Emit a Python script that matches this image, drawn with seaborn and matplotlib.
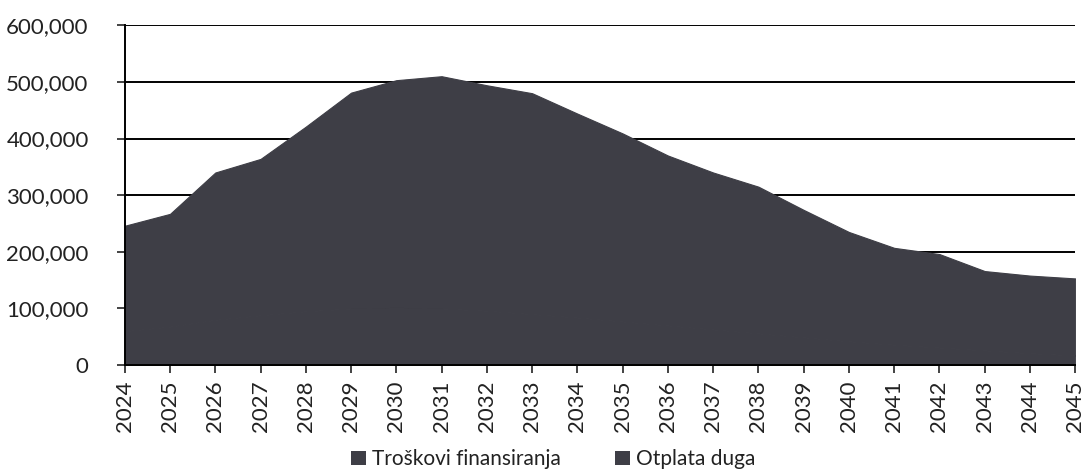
import matplotlib
matplotlib.use('Agg')
import matplotlib.pyplot as plt
import matplotlib.ticker as mticker
from matplotlib.patches import Patch
import seaborn as sns

years = list(range(2024, 2046))
# stacked in thousands (the two layers print in the same dark grey)
troskovi_finansiranja = [60, 68, 80, 88, 95, 100, 102, 100, 96, 90, 84,
                         77, 70, 63, 56, 49, 42, 36, 31, 26, 21, 17]
otplata_duga = [186, 199, 260, 276, 326, 381, 401, 410, 398, 390, 360,
                332, 300, 277, 259, 225, 193, 171, 165, 140, 137, 136]
labels = ['Troškovi finansiranja', 'Otplata duga']
colors = ['#3e3e46', '#3e3e46']

sns.set_style('white')
plt.rcParams['font.family'] = ['Lato', 'DejaVu Sans']

fig = plt.figure(figsize=(10.85, 4.76), dpi=100)
ax = fig.add_axes([0.115, 0.233, 0.876, 0.714])

ax.set_axisbelow(True)
ax.yaxis.grid(True, color='black', linewidth=1.4)
polys = ax.stackplot(years,
                     [v * 1000 for v in troskovi_finansiranja],
                     [v * 1000 for v in otplata_duga],
                     colors=colors, zorder=2)
# hide the seam between the two layers, as in the scan
for p, c in zip(polys, colors):
    p.set_edgecolor(c)
    p.set_linewidth(0.8)

ax.set_xlim(2024, 2045)
ax.set_ylim(0, 600000)
ax.set_xticks(years)
ax.set_xticklabels([str(y) for y in years], rotation=90)
ax.set_yticks(range(0, 600001, 100000))
ax.yaxis.set_major_formatter(mticker.FuncFormatter(lambda v, p: f'{int(v):,}'))
ax.tick_params(axis='both', labelsize=16, colors='#222222', length=6, width=1.2,
               direction='out', bottom=True, left=True)
ax.tick_params(axis='y', pad=20)
ax.tick_params(axis='x', pad=5)

for side in ['top', 'right']:
    ax.spines[side].set_visible(False)
for side in ['left', 'bottom']:
    ax.spines[side].set_color('black')
    ax.spines[side].set_linewidth(1.4)
    ax.spines[side].set_zorder(3)

handles = [Patch(facecolor=c, edgecolor='none') for c in colors]
fig.legend(handles, labels, loc='lower center', bbox_to_anchor=(0.51, -0.025), ncol=2,
           frameon=False, fontsize=15, handlelength=0.7, handleheight=0.7,
           handletextpad=0.3, columnspacing=2.6, labelcolor='#222222')

fig.savefig('out.png', dpi=100)
